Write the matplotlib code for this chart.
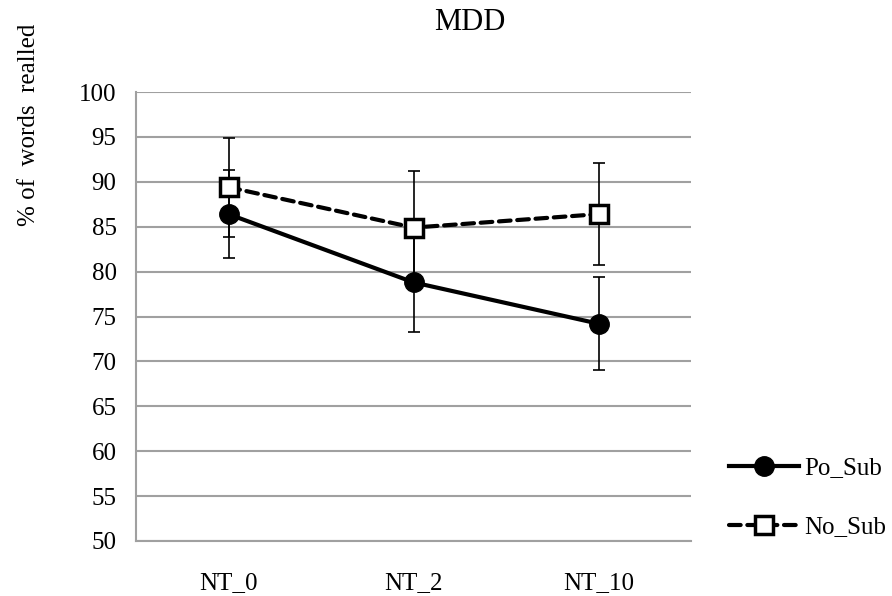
import matplotlib
matplotlib.use("Agg")
import matplotlib.pyplot as plt

categories = ["NT_0", "NT_2", "NT_10"]
po_sub = [86.4, 78.8, 74.2]
po_sub_err = [4.9, 5.5, 5.2]
no_sub = [89.4, 84.9, 86.4]
no_sub_err = [5.5, 6.3, 5.7]
yticks = list(range(50, 101, 5))

plt.rcParams['font.family'] = ['Liberation Serif', 'DejaVu Serif']

fig = plt.figure(figsize=(8.92, 5.96), dpi=100)
ax = fig.add_axes([0.1525, 0.0923, 0.6222, 0.7533])

x = list(range(len(categories)))
grid_c = '#a0a0a0'

ax.errorbar(x, po_sub, yerr=po_sub_err, fmt='none', ecolor='black',
            elinewidth=1.2, capsize=4.5, capthick=1.2, zorder=2)
ax.errorbar(x, no_sub, yerr=no_sub_err, fmt='none', ecolor='black',
            elinewidth=1.2, capsize=4.5, capthick=1.2, zorder=2)

ax.plot(x, po_sub, color='black', lw=3, marker='o', markersize=14,
        markerfacecolor='black', markeredgecolor='black', zorder=3,
        label='Po_Sub')
ax.plot(x, no_sub, color='black', lw=3, linestyle=(0, (2.8, 1.6)),
        dash_capstyle='round', marker='s', markersize=13,
        markerfacecolor='white', markeredgecolor='black', markeredgewidth=2.5,
        zorder=4, label='No_Sub')

ax.set_xlim(-0.5, 2.5)
ax.set_ylim(50, 100)
ax.set_yticks(yticks)
ax.set_xticks(x)
ax.set_xticklabels(categories)
ax.tick_params(axis='both', length=0, labelsize=18, pad=14)
ax.tick_params(axis='x', pad=22)
ax.yaxis.grid(True, color=grid_c, lw=1.5)
ax.set_axisbelow(True)
for s in ['top', 'right']:
    ax.spines[s].set_visible(False)
for s in ['left', 'bottom']:
    ax.spines[s].set_color(grid_c)
    ax.spines[s].set_linewidth(1.5)

fig.text(0.527, 0.963, "MDD", ha='center', va='center', fontsize=22)
fig.text(0.032, 0.79, "% of  words  realled", rotation=90, ha='center',
         va='center', fontsize=18)

leg = fig.legend(loc='upper left', bbox_to_anchor=(0.806, 0.25),
                 frameon=False, fontsize=18, handlelength=2.8,
                 handletextpad=0.2, labelspacing=1.45, borderaxespad=0)

fig.savefig("out.png", dpi=100)
